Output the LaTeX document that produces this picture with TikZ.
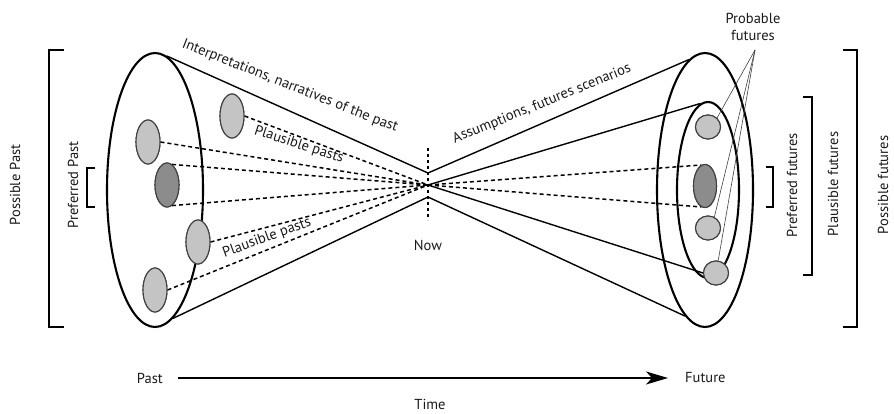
\documentclass[tikz,border=0pt]{standalone}
\usepackage{fontspec}
\setmainfont{PT Sans}
\usetikzlibrary{shapes.geometric,arrows.meta}
\begin{document}
\begin{tikzpicture}[x=1pt,y=-1pt,
  big/.style={ellipse, draw, line width=2.1pt, inner sep=0pt},
  blob/.style={ellipse, draw=black!75, line width=1.1pt, fill=black!23, inner sep=0pt, minimum width=24pt, minimum height=44pt},
  darkblob/.style={blob, fill=black!45},
  dot/.style={blob, minimum width=25pt, minimum height=24pt},
  cone/.style={line width=1.4pt},
  dashline/.style={line width=1.5pt, dash pattern=on 4pt off 3pt},
  thinline/.style={line width=0.6pt, black!75},
  brk/.style={line width=1.3pt},
  lbl/.style={font=\fontsize{14.5}{16.5}\selectfont, inner sep=0pt, text=black!90}]
\useasboundingbox (0,0) rectangle (894,414);

% meeting points at "Now"
\coordinate (nowT) at (428,173);
\coordinate (nowB) at (428,197);
\coordinate (nowC) at (428,185);
\coordinate (nowTop) at (428,148);
\coordinate (nowBot) at (428,220);

% big ellipses
\node[big, minimum width=96pt, minimum height=274pt] (L) at (155,190) {};
\node[big, minimum width=96pt, minimum height=274pt] (R) at (705,190) {};
\node[big, minimum width=62pt, minimum height=176pt] (Ri) at (708,190) {};

% small ellipses (left)
\node[blob] (E1) at (232,116) {};
\node[blob] (E2) at (148,142) {};
\node[darkblob] (E3) at (167,185) {};
\node[blob] (E4) at (198,242) {};
\node[blob] (E5) at (155,290) {};

% small ellipses (right)
\node[dot] (F1) at (708,127) {};
\node[darkblob, minimum width=23pt, minimum height=43pt] (F2) at (705,186) {};
\node[dot] (F3) at (708,228) {};
\node[dot] (F4) at (716,273) {};

% cone lines
\draw[cone] (L.85) -- (nowT) -- (R.97);
\draw[cone] (L.-82) -- (nowB) -- (R.-99);
\draw[cone] (nowC) -- (Ri.95);
\draw[cone] (nowC) -- (F4.west);

% now marker
\draw[line width=1.2pt, dash pattern=on 3pt off 3pt] (nowTop) -- (nowBot);

% dashed lines
\draw[dashline] (E1.east) -- (nowC);
\draw[dashline] (E2.east) -- (nowC);
\draw[dashline] (E3.76) -- (nowC);
\draw[dashline] (E3.-76) -- (nowC);
\draw[dashline] (E4.east) -- (nowC);
\draw[dashline] (E5.east) -- (nowC);
\draw[dashline] (nowC) -- (F2.100);
\draw[dashline] (nowC) -- (F2.-100);

% redraw blobs above lines
\node[blob] at (E1) {};
\node[blob] at (E2) {};
\node[darkblob] at (E3) {};
\node[blob] at (E4) {};
\node[blob] at (E5) {};
\node[dot] at (F1) {};
\node[darkblob, minimum width=23pt, minimum height=43pt] at (F2) {};
\node[dot] at (F3) {};
\node[dot] at (F4) {};

% probable futures
\node[lbl, align=center] (prob) at (753,27) {Probable\\futures};
\coordinate (apex) at (755,50);
\draw[thinline] (apex) -- (F1.45);
\draw[thinline] (apex) -- (F3.60);
\draw[thinline] (apex) -- (F4.80);

% brackets left
\coordinate (bpl1) at (64,50);
\coordinate (bpl2) at (64,327);
\draw[brk] (bpl1) -- (49,50) -- (49,327) -- (bpl2);
\coordinate (bfl1) at (95,168);
\coordinate (bfl2) at (95,207);
\draw[brk] (bfl1) -- (87,168) -- (87,207) -- (bfl2);
\node[lbl, rotate=90] (possP) at (15,185) {Possible Past};
\node[lbl, rotate=90] (prefP) at (73,185) {Preferred Past};

% brackets right
\coordinate (bfr1) at (766,167);
\coordinate (bfr2) at (766,207);
\draw[brk] (bfr1) -- (773,167) -- (773,207) -- (bfr2);
\coordinate (bpr1) at (803,97);
\coordinate (bpr2) at (803,275);
\draw[brk] (bpr1) -- (812,97) -- (812,275) -- (bpr2);
\coordinate (bor1) at (843,50);
\coordinate (bor2) at (843,327);
\draw[brk] (bor1) -- (857,50) -- (857,327) -- (bor2);
\node[lbl, rotate=90] (prefF) at (792,185) {Preferred futures};
\node[lbl, rotate=90] (plauF) at (833,184) {Plausible futures};
\node[lbl, rotate=90] (possF) at (883,185) {Possible futures};

% cone labels
\node[lbl, rotate=-21.5] (interp) at (290,86) {Interpretations, narratives of the past};
\node[lbl, rotate=22] (assum) at (542,104) {Assumptions, futures scenarios};
\node[lbl, rotate=-18] (pp1) at (299,145) {Plausible pasts};
\node[lbl, rotate=20] (pp2) at (267,238) {Plausible pasts};
\node[lbl] (now) at (428,245) {Now};

% time axis
\node[lbl, anchor=east] (past) at (163,378) {Past};
\node[lbl, anchor=west] (fut) at (685,378) {Future};
\node[lbl] (time) at (430,404) {Time};
\coordinate (ta) at (178,378);
\coordinate (tb) at (668,378);
\draw[line width=1.4pt, -{Stealth[length=22pt, width=13pt, inset=6pt]}] (ta) -- (tb);
\end{tikzpicture}
\end{document}
